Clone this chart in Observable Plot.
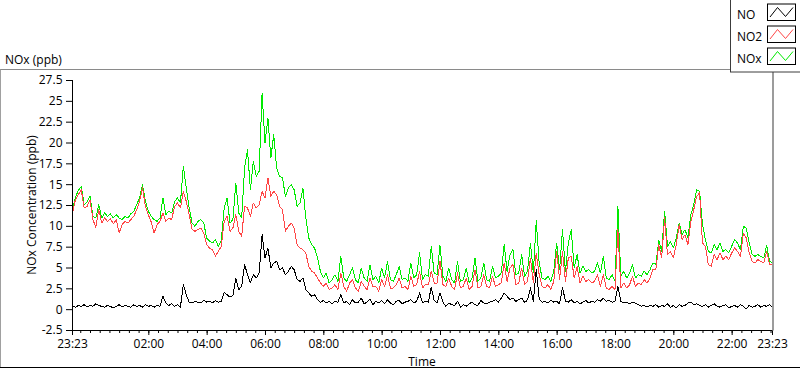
<!DOCTYPE html>
<html>
<head>
<meta charset="utf-8">
<script src="https://cdn.jsdelivr.net/npm/d3@7"></script>
<script src="https://cdn.jsdelivr.net/npm/@observablehq/plot@0.6"></script>
<style>
  html, body { margin: 0; padding: 0; background: #fff; }
  #wrap { position: relative; width: 800px; height: 369px; overflow: hidden; font-family: "Open Sans", sans-serif; }
  #wrap > svg { position: absolute; left: 0; top: 0; }
  #overlay { pointer-events: none; }
  #overlay text { font-family: "Open Sans", sans-serif; font-size: 12px; fill: #000; }
</style>
</head>
<body>
<div id="wrap"></div>
<script>
// ---- data (6-minute samples starting 23:23) ----
const startTime = "23:23";
const stepMinutes = 6;
const seriesNames = ["NO", "NO2", "NOx"];
const seriesColors = ["#000000", "#ff4646", "#00ea00"];

const nox = [
12.0,13.5,14.3,14.8,12.6,12.9,13.6,11.2,11.0,12.6,
11.0,11.6,11.2,11.5,11.0,11.4,11.0,10.8,11.2,11.0,
11.5,11.8,12.6,13.4,15.0,13.0,11.8,11.2,10.8,10.6,
11.0,13.4,11.4,11.8,11.6,13.0,13.4,12.8,17.2,14.6,
12.2,10.4,10.0,10.6,10.8,10.4,8.6,8.2,8.0,8.4,
7.6,8.3,12.2,13.4,10.4,10.8,15.2,11.6,11.0,17.0,
19.2,14.4,17.8,16.0,16.6,26.0,20.0,23.0,18.2,21.0,
17.0,16.0,15.8,13.6,14.6,15.0,14.4,12.4,12.8,14.6,
11.0,8.6,7.8,7.4,6.2,4.6,3.8,4.4,3.2,3.6,
4.2,3.4,6.4,3.8,3.4,4.2,5.0,3.6,3.2,5.0,
3.8,3.4,5.4,3.6,4.0,3.2,5.0,3.8,5.8,3.6,
3.4,4.2,5.2,3.6,3.8,3.4,5.6,3.8,4.2,6.8,
3.6,4.2,4.0,7.6,4.4,4.2,7.7,4.0,3.4,5.0,
3.6,3.2,5.8,3.4,3.6,5.0,3.2,3.8,6.2,3.4,
3.8,5.6,3.6,3.4,5.2,3.8,4.0,4.4,7.8,4.6,
6.6,7.2,4.2,4.4,6.6,4.0,4.6,8.0,4.4,10.7,
5.6,3.8,3.6,4.0,3.4,4.6,8.0,4.8,9.6,4.6,
8.0,9.6,5.0,6.6,4.4,5.2,4.6,4.8,4.4,4.6,
5.6,4.4,6.4,3.8,3.6,4.2,3.4,12.4,4.0,4.6,
3.8,4.4,5.4,3.8,4.2,4.0,4.6,4.2,4.8,5.6,
5.4,8.3,7.0,11.8,7.6,8.2,7.4,8.6,10.4,9.0,
9.6,8.6,11.4,12.6,14.4,14.2,10.2,8.4,7.0,6.8,
7.8,7.2,8.0,7.0,7.2,6.8,7.6,8.4,8.0,7.2,
10.0,9.8,8.0,6.6,6.4,6.6,6.4,6.2,7.7,5.8,
5.6
];

const no2 = [
11.6,13.2,13.8,14.4,12.2,12.4,13.2,10.8,9.9,12.0,
10.4,11.0,10.6,10.9,10.3,10.8,9.2,10.2,10.6,10.4,
10.8,11.2,12.0,13.0,14.6,12.4,11.4,10.5,9.2,10.2,
10.6,11.6,10.6,11.0,10.8,12.4,12.8,12.2,14.2,13.0,
11.4,9.6,9.4,9.6,9.8,9.2,7.8,7.4,7.2,6.4,
7.0,7.6,10.6,11.2,9.4,9.8,11.4,9.4,8.8,12.4,
12.2,11.2,12.8,12.2,12.6,14.2,13.4,15.8,13.6,14.2,
13.8,12.4,12.0,9.4,10.0,10.4,9.8,7.8,7.4,7.2,
6.8,5.2,4.6,4.4,3.8,3.2,2.8,3.2,2.4,2.6,
3.0,2.4,4.4,2.8,2.2,3.2,3.6,2.6,2.2,3.4,
2.8,2.4,3.8,2.8,2.8,2.2,3.6,2.8,4.2,2.6,
2.6,3.0,3.8,2.6,2.8,2.4,4.0,2.8,3.0,4.6,
2.6,3.0,3.0,4.6,3.2,3.2,5.8,3.0,2.8,3.8,
2.8,2.4,4.4,2.6,2.8,3.8,2.4,2.8,4.8,2.6,
2.8,4.2,2.8,2.6,4.0,2.8,3.0,3.2,5.6,3.4,
5.0,5.4,3.0,3.2,5.0,3.0,3.4,6.2,3.2,6.8,
4.2,2.8,2.6,3.0,2.4,3.4,7.0,3.6,7.0,3.4,
6.2,6.4,3.8,5.2,3.2,4.0,3.4,3.6,3.2,3.4,
4.2,2.8,4.2,2.6,2.4,2.8,2.4,9.6,2.6,3.2,
2.6,3.0,4.0,2.8,3.2,3.0,3.6,3.2,3.8,4.8,
4.8,7.8,6.2,11.0,6.6,7.0,6.2,7.8,10.2,8.4,
9.0,7.8,10.6,12.0,13.6,14.0,8.0,7.6,5.4,5.2,
6.6,6.0,6.8,6.0,6.4,6.0,6.8,7.4,7.0,6.4,
9.2,8.6,6.8,5.8,5.6,6.0,5.8,5.6,7.0,5.4,
5.4
];

const no = [
0.4,0.3,0.5,0.4,0.6,0.3,0.5,0.4,0.7,0.5,
0.4,0.3,0.5,0.4,0.2,0.4,0.6,0.3,0.5,0.4,
0.3,0.6,0.4,0.5,0.3,0.6,0.4,0.5,0.3,0.5,
0.4,1.6,0.8,0.5,0.7,0.4,0.6,0.3,3.0,1.8,
0.9,0.8,1.0,0.9,0.8,1.1,0.9,1.0,0.8,1.1,
0.9,1.0,2.1,1.8,1.5,1.7,3.8,2.4,2.8,5.4,
4.2,3.2,4.2,3.8,4.4,9.0,6.2,7.4,5.0,5.6,
5.8,4.8,5.0,4.2,4.6,5.2,4.8,3.6,3.4,3.8,
2.4,2.0,1.6,1.8,1.2,0.9,1.1,0.8,1.0,0.7,
1.0,0.9,1.8,0.8,1.0,0.6,1.2,0.8,0.9,1.4,
0.7,0.9,1.3,0.6,1.0,0.8,1.1,0.7,1.2,0.8,
0.6,1.0,1.1,0.7,0.9,1.0,1.2,0.8,1.0,2.0,
0.8,1.0,0.9,2.7,1.1,0.8,2.0,0.9,0.4,0.8,
0.6,0.5,1.0,0.3,0.6,0.4,0.7,0.9,0.6,0.5,
1.1,0.8,0.7,0.9,1.0,1.2,0.9,1.4,2.0,1.6,
1.2,1.4,1.0,1.2,1.4,0.9,1.1,2.6,1.0,4.8,
1.3,0.9,1.0,0.8,1.1,0.9,1.0,0.7,2.7,1.0,
0.9,1.2,0.8,1.0,0.7,0.9,1.1,0.8,1.0,0.9,
1.2,1.0,1.4,1.0,1.1,0.9,1.0,2.8,1.0,0.8,
0.9,0.7,0.9,0.8,0.6,0.4,0.5,0.3,0.5,0.4,
0.6,0.3,0.5,0.4,0.7,0.3,0.5,0.2,0.6,0.4,
0.5,0.8,0.9,0.6,0.7,0.5,0.4,0.6,0.3,0.5,
0.7,0.4,0.3,0.5,0.6,0.2,0.4,0.5,0.3,0.6,
0.4,0.1,0.5,0.3,0.4,0.6,0.3,0.5,0.4,0.6,
0.3
];

const yTicks = [-2.5, 0, 2.5, 5, 7.5, 10, 12.5, 15, 17.5, 20, 22.5, 25, 27.5];
const xTickLabels = ["23:23","02:00","04:00","06:00","08:00","10:00","12:00","14:00","16:00","18:00","20:00","22:00","23:23"];

const titleText = "NOx (ppb)";
const yLabel = "NOx Concentration (ppb)";
const xLabel = "Time";

// ---- build ----
const [sh, sm] = startTime.split(":").map(Number);
const t0 = Date.UTC(2020, 0, 1, sh, sm);
const t1 = t0 + 24 * 3600e3;
const rows = nox.map((v, i) => ({t: new Date(t0 + i * stepMinutes * 60e3), nox: v, no2: no2[i], no: no[i]}));

const majorTicks = xTickLabels.map((s, i) => {
  if (i === 0) return new Date(t0);
  if (i === xTickLabels.length - 1) return new Date(t1);
  const [h, m] = s.split(":").map(Number);
  return new Date(Date.UTC(2020, 0, 2, h, m));
});
const minorTicks = d3.utcMinute.every(20).range(new Date(t0), new Date(t1));
const fmt = d3.utcFormat("%H:%M");

const lineOpts = {strokeWidth: 1, shapeRendering: "crispEdges"};
const chart = Plot.plot({
  width: 800,
  height: 369,
  marginLeft: 72,
  marginRight: 28,
  marginTop: 80,
  marginBottom: 39,
  style: {fontFamily: "'Open Sans', sans-serif", fontSize: "12px", color: "#000", background: "transparent"},
  x: {type: "utc", domain: [new Date(t0), new Date(t1)]},
  y: {domain: [-2.5, 27.5]},
  marks: [
    Plot.lineY(rows, {x: "t", y: "nox", stroke: seriesColors[2], ...lineOpts}),
    Plot.lineY(rows, {x: "t", y: "no2", stroke: seriesColors[1], ...lineOpts}),
    Plot.lineY(rows, {x: "t", y: "no", stroke: seriesColors[0], ...lineOpts}),
    Plot.axisY(yTicks, {tickSize: 6, tickPadding: 4, tickFormat: d => String(d), fontSize: 12, label: null}),
    Plot.axisX(minorTicks, {tickSize: 3, tickFormat: () => "", label: null}),
    Plot.axisX(majorTicks, {tickSize: 5, tickPadding: 4, tickFormat: d => fmt(d), fontSize: 12, label: null}),
    Plot.ruleX([new Date(t0)], {stroke: "#000"}),
    Plot.ruleY([-2.5], {stroke: "#000"})
  ]
});
const wrap = document.getElementById("wrap");
wrap.appendChild(chart);

// ---- overlay: frame, titles, legend ----
const ns = "http://www.w3.org/2000/svg";
const ov = document.createElementNS(ns, "svg");
ov.setAttribute("id", "overlay");
ov.setAttribute("width", 800);
ov.setAttribute("height", 369);
function el(tag, attrs, text) {
  const e = document.createElementNS(ns, tag);
  for (const k in attrs) e.setAttribute(k, attrs[k]);
  if (text != null) e.textContent = text;
  ov.appendChild(e);
  return e;
}
// outer frame
el("line", {x1: 0, y1: 69.5, x2: 730, y2: 69.5, stroke: "#8a8a8a"});
el("line", {x1: 0.5, y1: 69.5, x2: 0.5, y2: 368, stroke: "#a0a0a0"});
el("line", {x1: 0, y1: 367.5, x2: 800, y2: 367.5, stroke: "#000"});
el("rect", {x: 772, y: 72, width: 2, height: 258.5, fill: "#9c9c9c"});
// texts
el("text", {x: 5, y: 64}, titleText);
el("text", {transform: "translate(36,205) rotate(-90)", "text-anchor": "middle"}, yLabel);
el("text", {x: 422, y: 366, "text-anchor": "middle"}, xLabel);
// legend
el("rect", {x: 730.5, y: -2, width: 80, height: 74, fill: "#fff", stroke: "#3c3c3c"});
const legendY = [18.5, 40.5, 62.5];
seriesNames.forEach((name, i) => {
  const by = legendY[i] - 15;
  el("text", {x: 737, y: legendY[i]}, name);
  el("rect", {x: 767.5, y: by + 0.5, width: 28, height: 16.5, fill: "#fff", stroke: "#000"});
  el("polyline", {
    points: [[770, by + 13.5], [777.5, by + 4], [785.5, by + 13], [793, by + 4]].map(p => p.join(",")).join(" "),
    fill: "none", stroke: seriesColors[i], "stroke-width": 1
  });
});
wrap.appendChild(ov);
</script>
</body>
</html>
